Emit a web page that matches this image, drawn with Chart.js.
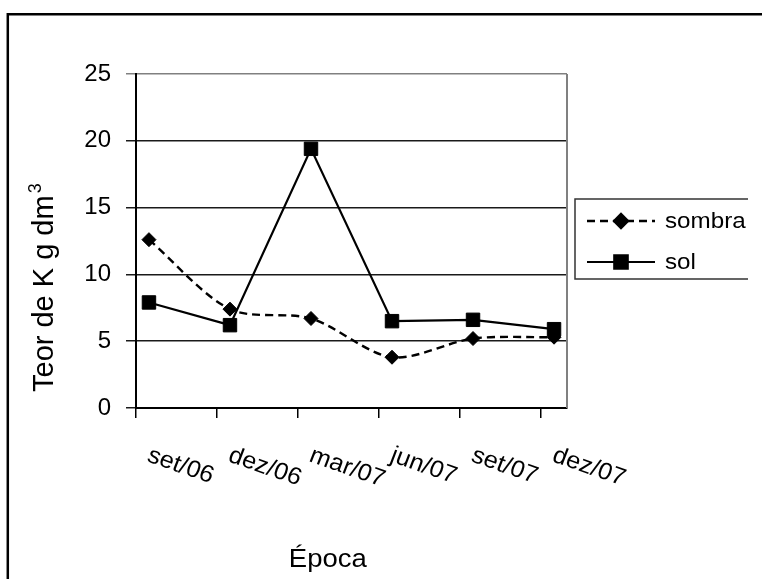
<!DOCTYPE html>
<html>
<head>
  <meta charset="utf-8" />
  <title>Teor de K</title>
  <script src="https://cdn.jsdelivr.net/npm/chart.js@4.4.0/dist/chart.umd.min.js"></script>
  <style>
    body { margin: 0; background: #fff; }
  </style>
</head>
<body>
  <canvas id="teorK" width="762" height="579"></canvas>
  <script>
    // sampling dates and potassium content (g dm-3)
    var epocas = ["set/06", "dez/06", "mar/07", "jun/07", "set/07", "dez/07"];
    var sombra = [12.6, 7.4, 6.7, 3.8, 5.2, 5.3];
    var sol = [7.9, 6.2, 19.4, 6.5, 6.6, 5.9];
    var yTicks = [0, 5, 10, 15, 20, 25];

    var FONT = "'Liberation Sans', Arial, sans-serif";
    var SHIFT = 0.16; // tick marks sit a little left of each date
    var STRETCH = 1.1; // text is drawn a bit wide

    function toPoints(arr) {
      return arr.map(function (v, i) { return { x: i, y: v }; });
    }

    function wideText(ctx, txt, x, y, angle, stretch) {
      ctx.save();
      ctx.translate(x, y);
      ctx.scale(stretch || STRETCH, 1);
      ctx.rotate(angle || 0);
      ctx.fillText(txt, 0, 0);
      ctx.restore();
    }

    var extras = {
      id: 'extras',
      beforeDraw: function (chart) {
        var ctx = chart.ctx;
        ctx.save();
        ctx.fillStyle = '#fff';
        ctx.fillRect(0, 0, chart.width, chart.height);
        // outer frame
        ctx.strokeStyle = '#000';
        ctx.lineWidth = 2.5;
        ctx.beginPath();
        ctx.moveTo(7.8, chart.height);
        ctx.lineTo(7.8, 14.3);
        ctx.lineTo(chart.width, 14.3);
        ctx.stroke();
        ctx.restore();
      },
      afterDraw: function (chart) {
        var ctx = chart.ctx;
        var area = chart.chartArea;
        var xs = chart.scales.x;
        ctx.save();
        ctx.fillStyle = '#000';

        // right edge of plot area
        ctx.strokeStyle = '#808080';
        ctx.lineWidth = 2;
        ctx.beginPath();
        ctx.moveTo(area.right, area.top);
        ctx.lineTo(area.right, area.bottom);
        ctx.stroke();

        // date labels, slanted downwards
        ctx.font = '24px ' + FONT;
        ctx.textAlign = 'left';
        ctx.textBaseline = 'alphabetic';
        epocas.forEach(function (lab, i) {
          wideText(ctx, lab, xs.getPixelForValue(i) - 3, area.bottom + 53, 20 * Math.PI / 180, 1.05);
        });

        // x title
        ctx.font = '25px ' + FONT;
        ctx.textAlign = 'center';
        wideText(ctx, 'Época', area.left + (area.right - area.left) * 0.445, 567);

        // y title with superscript
        ctx.save();
        ctx.translate(53, 392);
        ctx.rotate(-Math.PI / 2);
        ctx.textAlign = 'left';
        ctx.font = '29px ' + FONT;
        var main = 'Teor de K g dm';
        ctx.fillText(main, 0, 0);
        var w = ctx.measureText(main).width;
        ctx.font = '18px ' + FONT;
        ctx.fillText('3', w + 2, -12);
        ctx.restore();

        // legend
        var lx = area.right + 8, ly = 199, rx = 748;
        ctx.strokeStyle = '#333';
        ctx.lineWidth = 1.5;
        ctx.beginPath();
        ctx.moveTo(rx, ly);
        ctx.lineTo(lx, ly);
        ctx.lineTo(lx, ly + 80);
        ctx.lineTo(rx, ly + 80);
        ctx.stroke();
        var rows = [chart.data.datasets[0], chart.data.datasets[1]];
        rows.forEach(function (ds, i) {
          var y = ly + 22 + i * 41;
          ctx.strokeStyle = ds.borderColor;
          ctx.lineWidth = ds.borderWidth;
          ctx.setLineDash(ds.borderDash || []);
          ctx.beginPath();
          ctx.moveTo(lx + 12, y);
          ctx.lineTo(lx + 80, y);
          ctx.stroke();
          ctx.setLineDash([]);
          Chart.helpers.drawPoint(ctx, {
            pointStyle: ds.pointStyle,
            radius: ds.pointRadius,
            borderWidth: 1
          }, lx + 46, y);
          ctx.fillStyle = '#000';
          ctx.strokeStyle = '#000';
          ctx.fill();
          ctx.font = '22px ' + FONT;
          ctx.textAlign = 'left';
          ctx.textBaseline = 'middle';
          wideText(ctx, ds.label, lx + 90, y + 1);
        });
        ctx.restore();
      }
    };

    new Chart(document.getElementById('teorK').getContext('2d'), {
      type: 'line',
      data: {
        datasets: [{
          label: 'sombra',
          data: toPoints(sombra),
          borderColor: '#000',
          borderWidth: 2.4,
          borderDash: [8, 5],
          tension: 0.3,
          pointStyle: 'rectRot',
          pointRadius: 7,
          pointBackgroundColor: '#000',
          pointBorderColor: '#000',
          pointBorderWidth: 1,
          order: 2
        }, {
          label: 'sol',
          data: toPoints(sol),
          borderColor: '#000',
          borderWidth: 2.2,
          tension: 0,
          pointStyle: 'rect',
          pointRadius: 9.5,
          pointBackgroundColor: '#000',
          pointBorderColor: '#000',
          pointBorderWidth: 1,
          order: 1
        }]
      },
      options: {
        responsive: false,
        animation: false,
        layout: { padding: { left: 0, top: 74, right: 195, bottom: 0 } },
        plugins: {
          legend: { display: false },
          tooltip: { enabled: false }
        },
        scales: {
          x: {
            type: 'linear',
            min: -SHIFT,
            max: epocas.length - 1 + SHIFT,
            afterBuildTicks: function (scale) {
              scale.ticks = epocas.map(function (e, i) { return { value: i - SHIFT }; });
            },
            afterFit: function (scale) { scale.height = 171; },
            ticks: { display: false },
            grid: {
              drawOnChartArea: false,
              drawTicks: true,
              tickLength: 10,
              color: '#000',
              lineWidth: 1.5
            },
            border: { display: true, color: '#000', width: 2 }
          },
          y: {
            min: 0,
            max: 25,
            afterBuildTicks: function (scale) {
              scale.ticks = yTicks.map(function (v) { return { value: v }; });
            },
            afterFit: function (scale) { scale.width = 136; },
            ticks: {
              color: '#000',
              padding: 15,
              font: { family: FONT, size: 24 }
            },
            grid: {
              tickLength: 10,
              lineWidth: 1.5,
              color: function (c) { return c.tick && c.tick.value === 25 ? '#808080' : '#1a1a1a'; }
            },
            border: { display: true, color: '#000', width: 2 }
          }
        }
      },
      plugins: [extras]
    });
  </script>
</body>
</html>
